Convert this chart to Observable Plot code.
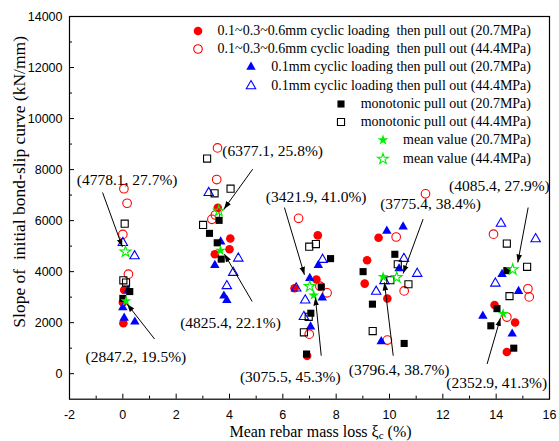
<!DOCTYPE html>
<html><head><meta charset="utf-8">
<script src="https://cdn.jsdelivr.net/npm/d3@7"></script>
<script src="https://cdn.jsdelivr.net/npm/@observablehq/plot@0.6"></script>
<style>
body{margin:0;background:#fff;}
#wrap{position:relative;width:559px;height:441px;}
#legend{position:absolute;top:21.5px;right:28px;font-family:"Liberation Serif",serif;font-size:14px;color:#000;}
.row{display:flex;justify-content:flex-end;align-items:center;height:18.3px;white-space:pre;}
.row svg{margin-right:14px;overflow:visible;}
</style>
</head><body><div id="wrap"><div id="legend"></div></div>
<script>
// ---------- tick values ----------
const xTicks = [-2, 0, 2, 4, 6, 8, 10, 12, 14, 16];
const xMinor = [-1, 1, 3, 5, 7, 9, 11, 13, 15];
const yTicks = [0, 2000, 4000, 6000, 8000, 10000, 12000, 14000];
const yMinor = [1000, 3000, 5000, 7000, 9000, 11000, 13000];

// ---------- series [mass loss %, slope kN/mm] ----------
const cyc3_207 = [[0.05,3280],[0.0,2790],[0.02,1980],
  [3.56,6500],[4.03,5300],[3.45,4680],[4.0,4880],
  [7.31,5420],[7.26,3690],[6.44,3350],[6.91,700],
  [9.59,5330],[9.16,4445],[9.07,3530],[9.92,2944],
  [13.94,2690],[14.71,2006],[14.4,850]];
const cyc3_444 = [[0.04,7250],[0.16,6680],[0.0,5460],[0.21,3900],
  [3.55,8850],[3.52,7610],[3.34,6050],[3.47,6220],
  [6.59,6090],[7.39,3430],[7.66,3170],[6.99,1550],
  [11.35,7050],[10.25,5357],[10.55,3245],[9.92,1318],
  [13.9,5470],[15.19,3330],[15.24,3010],[14.4,2220]];
const cyc1_207 = [[0.2,3280],[0.0,2590],[0.05,2180],[0.45,2030],
  [3.67,5170],[3.45,4250],[3.79,3050],[3.9,2880],
  [7.33,4250],[7.01,3740],[7.48,2980],[7.04,1840],
  [9.9,5590],[10.51,5760],[10.36,4117],[9.69,1263],
  [14.22,3898],[14.84,3230],[13.5,2260],[14.6,1560]];
const cyc1_444 = [[0.0,5130],[0.44,4610],
  [3.22,7090],[4.33,4520],[4.14,3960],[3.9,3440],
  [7.49,4470],[6.5,3350],[6.84,2880],[6.79,2230],
  [10.54,4508],[11.04,3922],[9.81,3636],[9.5,3218],
  [14.18,5885],[15.48,5280],[13.97,3540]];
const mono_207 = [[0.26,3220],[0.0,2950],
  [3.61,6010],[3.25,5500],[3.54,5130],[3.69,4490],
  [7.79,4510],[7.44,3400],[7.05,2370],[6.89,770],
  [10.2,4680],[9.01,4000],[9.36,2725],[10.55,1185],
  [14.4,4040],[14.03,2550],[13.8,1877],[14.66,1000]];
const mono_444 = [[0.07,5880],[0.02,3660],[0.12,3570],
  [3.16,8430],[3.44,7070],[4.04,7250],[3.01,5830],
  [6.99,4980],[7.24,5080],[6.97,2230],[6.79,1620],
  [10.31,4289],[10.03,3663],[10.71,3505],[9.37,1670],
  [14.4,5100],[15.16,4190],[14.5,3040]];
const mean_207 = [[0.12,2847.2],[3.66,4825.4],[7.16,3075.5],[9.76,3796.4],[14.26,2352.9]];
const mean_444 = [[0.1,4778.1],[3.6,6377.1],[7.01,3421.9],[10.27,3775.4],[14.62,4085.4]];

// ---------- annotations ----------
const annText = ["(4778.1, 27.7%)","(6377.1, 25.8%)","(3421.9, 41.0%)","(3775.4, 38.4%)","(4085.4, 27.9%)",
                 "(2847.2, 19.5%)","(4825.4, 22.1%)","(3075.5, 45.3%)","(3796.4, 38.7%)","(2352.9, 41.3%)"];
const annX = [0.16, 3.73, 7.25, 11.54, 14.12, 0.49, 4.04, 6.28, 10.36, 14.02];
const annY = [7609, 8721, 6931, 6645, 7350, 638, 1970, -145, 145, -380];
const arrowFromX = [-0.76, 4.87, 6.06, 11.26, 15.2, 1.19, 4.85, 7.44, 10.14, 13.66];
const arrowFromY = [7100, 8016, 6512, 6058, 6512, 1359, 2831, 705, 705, 380];
const arrowToX = [-0.02, 3.79, 6.81, 10.51, 14.81, 0.16, 3.81, 7.22, 9.81, 14.16];
const arrowToY = [4973, 6450, 3877, 3928, 4358, 2730, 4687, 2988, 3575, 2181];

const legendLabels = [
  "0.1~0.3~0.6mm cyclic loading  then pull out (20.7MPa)",
  "0.1~0.3~0.6mm cyclic loading  then pull out (44.4MPa)",
  "0.1mm cyclic loading then pull out (20.7MPa)",
  "0.1mm cyclic loading then pull out (44.4MPa)",
  "monotonic pull out (20.7MPa)",
  "monotonic pull out (44.4MPa)",
  "mean value (20.7MPa)",
  "mean value (44.4MPa)"
];
const xLabel = "Mean rebar mass loss \u03BEc (%)";
const yLabel = "Slope of\u00A0 initial bond-slip curve (kN/mm)";

// ---------- layout ----------
const W = 559, H = 441, mL = 69, mR = 10, mT = 16, mB = 42.3;
const frameW = W - mL - mR, frameH = H - mT - mB;
const RED = "#ff0000", BLUE = "#0000ff", GREEN = "#00ee00";

const styles = [
  {data: cyc3_207, symbol: "circle", r: 4.3, fill: RED, stroke: "none"},
  {data: cyc3_444, symbol: "circle", r: 4.3, fill: "none", stroke: RED},
  {data: cyc1_207, symbol: "triangle", r: 3.5, fill: BLUE, stroke: "none"},
  {data: cyc1_444, symbol: "triangle", r: 3.5, fill: "none", stroke: BLUE},
  {data: mono_207, symbol: "square", r: 4.0, fill: "#000", stroke: "none"},
  {data: mono_444, symbol: "square", r: 4.0, fill: "none", stroke: "#000"},
  {data: mean_207, symbol: "star", r: 3.4, fill: GREEN, stroke: "none"},
  {data: mean_444, symbol: "star", r: 3.4, fill: "none", stroke: GREEN}
];

const anns = annText.map((t, i) => ({t, x: annX[i], y: annY[i], anchor: i === 1 ? "start" : "middle"}));
const arrows = arrowFromX.map((d, i) => ({x1: d, y1: arrowFromY[i], x2: arrowToX[i], y2: arrowToY[i]}));

const serif = "Liberation Serif";

const chart = Plot.plot({
  width: W, height: H,
  marginLeft: mL, marginRight: mR, marginTop: mT, marginBottom: mB,
  x: {domain: [-2, 16]},
  y: {domain: [-1000, 14000]},
  style: {fontFamily: "Liberation Sans", fontSize: "12.5px", color: "black", background: "white"},
  marks: [
    Plot.axisX(xTicks, {tickSize: 0, tickPadding: 10.5, tickFormat: d => String(d), label: null, fontSize: 12.5}),
    Plot.axisY(yTicks, {tickSize: 0, tickPadding: 7, tickFormat: d => String(d), label: null, fontSize: 12.5}),
    Plot.ruleX(xTicks, {x: d => d, insetTop: frameH - 5, stroke: "black", strokeWidth: 1}),
    Plot.ruleX(xMinor, {x: d => d, insetTop: frameH - 3, stroke: "black", strokeWidth: 1}),
    Plot.ruleY(yTicks, {y: d => d, insetRight: frameW - 5, stroke: "black", strokeWidth: 1}),
    Plot.ruleY(yMinor, {y: d => d, insetRight: frameW - 3, stroke: "black", strokeWidth: 1}),
    ...styles.map(s => Plot.dot(s.data, {x: d => d[0], y: d => d[1], symbol: s.symbol, r: s.r,
      fill: s.fill, stroke: s.stroke, strokeWidth: 1.1})),
    Plot.link(arrows, {x1: "x1", y1: "y1", x2: "x2", y2: "y2", stroke: "black", strokeWidth: 1}),
    Plot.text(anns.filter(a => a.anchor === "middle"), {x: "x", y: "y", text: "t", fontFamily: serif, fontSize: 15.5, fill: "black", textAnchor: "middle"}),
    Plot.text(anns.filter(a => a.anchor === "start"), {x: "x", y: "y", text: "t", fontFamily: serif, fontSize: 15.5, fill: "black", textAnchor: "start"}),
    Plot.text([yLabel], {text: d => d, frameAnchor: "left", dx: -50, dy: -26, rotate: -90, fontFamily: serif, fontSize: 17.5, fill: "black", textAnchor: "middle", lineAnchor: "middle"}),
    Plot.text([xLabel], {text: d => d, frameAnchor: "bottom", dx: 11, dy: 32.5, fontFamily: serif, fontSize: 16, fill: "black", textAnchor: "middle", lineAnchor: "middle"}),
    Plot.frame({stroke: "black", strokeWidth: 1.2})
  ]
});

const wrap = document.getElementById("wrap");
wrap.insertBefore(chart, wrap.firstChild);

// filled arrowheads for annotation links
const svg = d3.select(chart);
svg.insert("defs", ":first-child").append("marker")
  .attr("id", "ahead").attr("viewBox", "0 0 10 10").attr("refX", 10).attr("refY", 5)
  .attr("markerWidth", 8).attr("markerHeight", 8).attr("markerUnits", "userSpaceOnUse").attr("orient", "auto")
  .append("path").attr("d", "M0,1.5L10,5L0,8.5Z").attr("fill", "black");
svg.selectAll('g[aria-label="link"] path').attr("marker-end", "url(#ahead)");

// subscript c in x label
svg.selectAll("text").filter(function() { return this.textContent === xLabel; }).each(function() {
  const t = d3.select(this);
  t.text(null);
  t.append("tspan").text("Mean rebar mass loss \u03BE");
  t.append("tspan").text("c").attr("dy", 2.5).attr("font-size", "11");
  t.append("tspan").text(" (%)").attr("dy", -2.5);
});

// legend
const legend = d3.select("#legend");
styles.forEach((s, i) => {
  const row = legend.append("div").attr("class", "row");
  const sv = row.append("svg").attr("width", 12).attr("height", 12);
  const sym = {circle: d3.symbolCircle, triangle: d3.symbolTriangle, square: d3.symbolSquare, star: d3.symbolStar}[s.symbol];
  sv.append("path").attr("transform", "translate(6,6)")
    .attr("d", d3.symbol(sym, Math.PI * s.r * s.r)())
    .attr("fill", s.fill).attr("stroke", s.stroke).attr("stroke-width", 1.1);
  row.append("span").text(legendLabels[i]);
});
</script>
</body></html>
